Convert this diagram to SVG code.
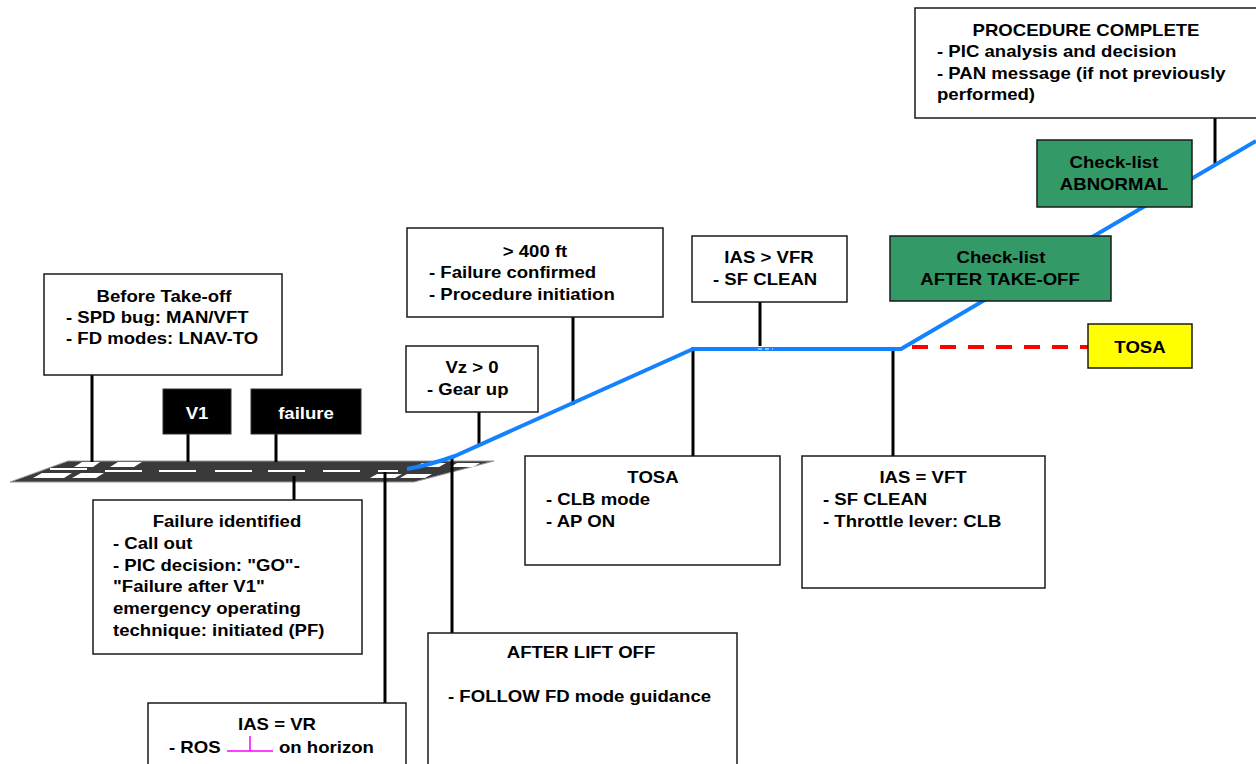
<svg xmlns="http://www.w3.org/2000/svg" width="1256" height="764" viewBox="0 0 1256 764">
<style>
.box{fill:#fff;stroke:#1a1a1a;stroke-width:1.5}
.green{fill:#339966;stroke:#1a1a1a;stroke-width:1.5}
.yellow{fill:#ffff00;stroke:#1a1a1a;stroke-width:1.5}
.blk{fill:#000;stroke:#333;stroke-width:1}
.t{font-family:"Liberation Sans",Arial,sans-serif;font-weight:bold;font-size:16.3px;fill:#000}
.w{fill:#fff}
.c{text-anchor:middle}
.conn{stroke:#000;stroke-width:3;fill:none}
.mark{fill:#fff}
</style>
<rect width="1256" height="764" fill="#fff"/>

<g id="runway">
<polygon points="10,482 68,461 494,461 414,482" fill="#3a3a3a" stroke="#9a9a9a" stroke-width="1"/>
<g class="mark">
<polygon points="33,478 42,473 72,473 64,478"/>
<polygon points="72,478 81,473 104,473 96,478"/>
<polygon points="74,467 82,462 100,462 93,467"/>
<polygon points="110,467 118,462 142,462 134,467"/>
<rect x="50" y="468" width="37" height="2"/>
<rect x="105" y="470" width="37" height="2"/>
<rect x="159" y="470" width="37" height="2"/>
<rect x="215" y="470" width="37" height="2"/>
<rect x="268" y="470" width="37" height="2"/>
<rect x="323" y="470" width="37" height="2"/>
<rect x="378" y="470" width="20" height="2"/>
<polygon points="370,478 377,474 402,474 395,478"/>
<polygon points="400,478 407,474 432,474 425,478"/>
<polygon points="415,467 422,463 446,463 439,467"/>
<polygon points="450,467 457,463 480,463 473,467"/>
</g>
</g>

<g id="connectors">
<line class="conn" x1="92" y1="375" x2="92" y2="462"/>
<line class="conn" x1="188" y1="434" x2="188" y2="462"/>
<line class="conn" x1="276" y1="434" x2="276" y2="462"/>
<line class="conn" x1="294" y1="476" x2="294" y2="500"/>
<line class="conn" x1="385" y1="472" x2="385" y2="703"/>
<line class="conn" x1="452" y1="457" x2="452" y2="633"/>
<line class="conn" x1="479" y1="412" x2="479" y2="446"/>
<line class="conn" x1="573" y1="317" x2="573" y2="405"/>
<line class="conn" x1="693" y1="347" x2="693" y2="457"/>
<line class="conn" x1="760" y1="302" x2="760" y2="346"/>
<line class="conn" x1="893" y1="347" x2="893" y2="457"/>
<line class="conn" x1="1215" y1="118" x2="1215" y2="166"/>
<line x1="912" y1="347" x2="1088" y2="347" stroke="#ff0000" stroke-width="4" stroke-dasharray="16 12"/>
<path d="M407,469 Q430,465 455,456 L693,349 L901,349 L1256,141" fill="none" stroke="#1482ff" stroke-width="4" stroke-linejoin="round"/>
<line x1="758" y1="349" x2="773" y2="349" stroke="#fff" stroke-width="1.2" stroke-dasharray="4 3"/>
</g>

<g id="before-takeoff">
<rect class="box" x="44" y="274" width="238" height="101"/>
<text class="t c" transform="matrix(1.14 0 0 1 164 302)">Before Take-off</text>
<text class="t" transform="matrix(1.14 0 0 1 66 323)">- SPD bug: MAN/VFT</text>
<text class="t" transform="matrix(1.14 0 0 1 66 344)">- FD modes: LNAV-TO</text>
</g>

<g id="v1">
<rect class="blk" x="163" y="389" width="68" height="45"/>
<text class="t w c" transform="matrix(1.14 0 0 1 197 419)">V1</text>
</g>

<g id="failure">
<rect class="blk" x="251" y="389" width="110" height="45"/>
<text class="t w c" transform="matrix(1.14 0 0 1 306 419)">failure</text>
</g>

<g id="failure-identified">
<rect class="box" x="93" y="500" width="269" height="154"/>
<text class="t c" transform="matrix(1.14 0 0 1 227 527)">Failure identified</text>
<text class="t" transform="matrix(1.14 0 0 1 113 549)">- Call out</text>
<text class="t" transform="matrix(1.14 0 0 1 113 571)">- PIC decision: "GO"-</text>
<text class="t" transform="matrix(1.14 0 0 1 113 592)">"Failure after V1"</text>
<text class="t" transform="matrix(1.14 0 0 1 113 614)">emergency operating</text>
<text class="t" transform="matrix(1.14 0 0 1 113 636)">technique: initiated (PF)</text>
</g>

<g id="ias-vr">
<rect class="box" x="148" y="703" width="258" height="80"/>
<text class="t c" transform="matrix(1.14 0 0 1 277 730)">IAS = VR</text>
<text class="t" transform="matrix(1.14 0 0 1 169 753)">- ROS</text>
<path d="M227,751 H273 M250,751 V736" stroke="#ff00ff" stroke-width="1.5" fill="none"/>
<text class="t" transform="matrix(1.14 0 0 1 279 753)">on horizon</text>
</g>

<g id="after-lift-off">
<rect class="box" x="428" y="633" width="309" height="150"/>
<text class="t c" transform="matrix(1.14 0 0 1 581 658)">AFTER LIFT OFF</text>
<text class="t" transform="matrix(1.14 0 0 1 448 702)">- FOLLOW FD mode guidance</text>
</g>

<g id="gear-up">
<rect class="box" x="406" y="346" width="132" height="66"/>
<text class="t c" transform="matrix(1.14 0 0 1 472 373)">Vz &gt; 0</text>
<text class="t" transform="matrix(1.14 0 0 1 427 395)">- Gear up</text>
</g>

<g id="above-400ft">
<rect class="box" x="407" y="228" width="256" height="89"/>
<text class="t c" transform="matrix(1.14 0 0 1 535 257)">&gt; 400 ft</text>
<text class="t" transform="matrix(1.14 0 0 1 429 278)">- Failure confirmed</text>
<text class="t" transform="matrix(1.14 0 0 1 429 300)">- Procedure initiation</text>
</g>

<g id="tosa-box">
<rect class="box" x="525" y="456" width="255" height="109"/>
<text class="t c" transform="matrix(1.14 0 0 1 653 483)">TOSA</text>
<text class="t" transform="matrix(1.14 0 0 1 546 505)">- CLB mode</text>
<text class="t" transform="matrix(1.14 0 0 1 546 527)">- AP ON</text>
</g>

<g id="ias-vfr">
<rect class="box" x="692" y="236" width="155" height="66"/>
<text class="t c" transform="matrix(1.14 0 0 1 769 263)">IAS &gt; VFR</text>
<text class="t" transform="matrix(1.14 0 0 1 713 285)">- SF CLEAN</text>
</g>

<g id="ias-vft">
<rect class="box" x="802" y="456" width="243" height="132"/>
<text class="t c" transform="matrix(1.14 0 0 1 923 483)">IAS = VFT</text>
<text class="t" transform="matrix(1.14 0 0 1 823 505)">- SF CLEAN</text>
<text class="t" transform="matrix(1.14 0 0 1 823 527)">- Throttle lever: CLB</text>
</g>

<g id="checklist-after-takeoff">
<rect class="green" x="890" y="236" width="221" height="65"/>
<text class="t c" transform="matrix(1.14 0 0 1 1001 263)">Check-list</text>
<text class="t c" transform="matrix(1.14 0 0 1 1000 285)">AFTER TAKE-OFF</text>
</g>

<g id="tosa-target">
<rect class="yellow" x="1088" y="324" width="104" height="44"/>
<text class="t c" transform="matrix(1.14 0 0 1 1140 353)">TOSA</text>
</g>

<g id="checklist-abnormal">
<rect class="green" x="1037" y="140" width="155" height="67"/>
<text class="t c" transform="matrix(1.14 0 0 1 1114 168)">Check-list</text>
<text class="t c" transform="matrix(1.14 0 0 1 1114 190)">ABNORMAL</text>
</g>

<g id="procedure-complete">
<rect class="box" x="915" y="8" width="360" height="110"/>
<text class="t c" transform="matrix(1.14 0 0 1 1086 36)">PROCEDURE COMPLETE</text>
<text class="t" transform="matrix(1.14 0 0 1 937 57)">- PIC analysis and decision</text>
<text class="t" transform="matrix(1.14 0 0 1 937 79)">- PAN message (if not previously</text>
<text class="t" transform="matrix(1.14 0 0 1 937 100)">performed)</text>
</g>
</svg>
